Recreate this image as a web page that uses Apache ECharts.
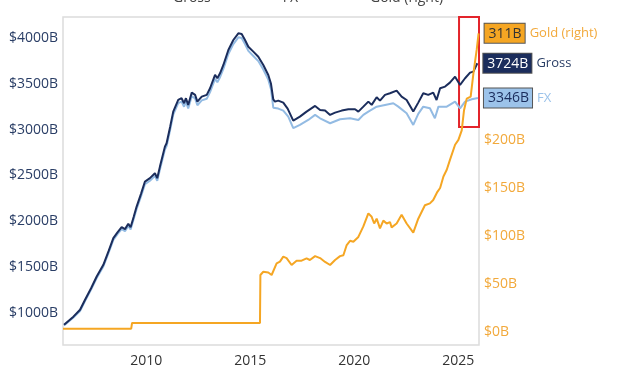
<!DOCTYPE html>
<html>
<head>
<meta charset="utf-8">
<script src="https://cdn.jsdelivr.net/npm/echarts@6/dist/echarts.min.js"></script>
<style>html,body{margin:0;padding:0;background:#fff}#c{width:624px;height:375px}</style>
</head>
<body>
<div id="c"></div>
<script>
const grossDates = [2006.05,2006.5,2006.82,2007.06,2007.35,2007.62,2007.94,2008.2,2008.42,2008.62,2008.82,2008.98,2009.14,2009.25,2009.4,2009.54,2009.75,2009.94,2010.18,2010.42,2010.53,2010.66,2010.9,2010.98,2011.15,2011.3,2011.54,2011.7,2011.82,2011.91,2012.02,2012.19,2012.35,2012.46,2012.67,2012.91,2013.07,2013.31,2013.42,2013.55,2013.71,2013.95,2014.19,2014.43,2014.59,2014.75,2014.91,2015.15,2015.39,2015.63,2015.87,2016.0,2016.11,2016.19,2016.35,2016.59,2016.65,2016.8,2017.07,2017.39,2017.71,2018.12,2018.36,2018.6,2018.84,2019.08,2019.4,2019.72,2020.04,2020.2,2020.44,2020.68,2020.84,2021.08,2021.24,2021.48,2021.72,2022.04,2022.28,2022.52,2022.84,2023.08,2023.32,2023.56,2023.8,2023.96,2024.13,2024.37,2024.6,2024.85,2025.09,2025.33,2025.57,2025.73,2025.92];
const gross = [872,960,1035,1144,1270,1398,1526,1680,1817,1880,1936,1915,1973,1936,2050,2161,2300,2434,2471,2525,2471,2597,2815,2852,3030,3197,3324,3343,3288,3343,3270,3404,3379,3306,3360,3379,3452,3597,3561,3615,3706,3869,3978,4051,4044,3978,3905,3851,3796,3706,3597,3500,3330,3306,3317,3295,3290,3230,3099,3142,3197,3259,3215,3208,3161,3186,3208,3223,3223,3197,3251,3306,3270,3353,3317,3379,3397,3426,3360,3324,3197,3295,3397,3379,3404,3324,3452,3470,3513,3578,3488,3561,3622,3633,3724];
const fxDates = [2006.05,2006.5,2006.82,2007.06,2007.35,2007.62,2007.94,2008.2,2008.42,2008.62,2008.82,2008.98,2009.14,2009.25,2009.4,2009.54,2009.75,2009.94,2010.18,2010.42,2010.53,2010.66,2010.9,2010.98,2011.15,2011.3,2011.54,2011.7,2011.82,2011.91,2012.02,2012.19,2012.35,2012.46,2012.67,2012.91,2013.07,2013.31,2013.42,2013.55,2013.71,2013.95,2014.19,2014.43,2014.59,2014.75,2014.91,2015.15,2015.39,2015.63,2015.87,2016.0,2016.11,2016.35,2016.59,2016.83,2017.07,2017.39,2017.79,2018.12,2018.36,2018.84,2019.32,2019.8,2020.2,2020.44,2020.68,2021.08,2021.48,2021.88,2022.12,2022.52,2022.84,2023.08,2023.32,2023.64,2023.88,2024.05,2024.45,2024.85,2025.09,2025.33,2025.65,2025.95];
const fx = [865,950,1022,1130,1255,1382,1508,1660,1797,1860,1914,1892,1950,1912,2025,2135,2272,2405,2443,2496,2442,2566,2784,2820,2996,3163,3290,3306,3250,3305,3232,3366,3340,3266,3320,3338,3410,3554,3518,3572,3662,3825,3934,4007,4000,3933,3860,3804,3748,3657,3546,3440,3240,3230,3208,3142,3016,3052,3106,3161,3124,3070,3114,3124,3106,3161,3197,3251,3270,3288,3251,3179,3052,3172,3251,3233,3124,3251,3251,3306,3233,3306,3332,3346];
const goldDates = [2006.0,2009.28,2009.32,2015.47,2015.49,2015.63,2015.87,2016.03,2016.27,2016.43,2016.59,2016.75,2016.99,2017.23,2017.47,2017.71,2017.87,2018.12,2018.36,2018.6,2018.84,2019.08,2019.32,2019.48,2019.64,2019.8,2019.96,2020.2,2020.44,2020.68,2020.84,2020.96,2021.08,2021.24,2021.4,2021.56,2021.72,2021.8,2022.04,2022.28,2022.52,2022.84,2023.08,2023.24,2023.4,2023.64,2023.8,2024.0,2024.13,2024.29,2024.45,2024.6,2024.85,2025.01,2025.17,2025.28,2025.41,2025.6,2025.73,2025.89,2025.98];
const gold = [3.5,3.5,9.5,9.5,59.4,62.8,62,59.4,71.5,73.3,78.5,77,69.8,74.3,74.3,76.7,75,79,77,73,69.8,75,79,80,90.6,95,94,99,110,123.6,120,113,118,108,116,113,114.5,109,113,122,113,103.5,118,125,132,134,137.5,146,150,162,169,179,195,200,210,231,243,245,269,294,311];
const xTicks = [2010,2015,2020,2025];
const leftTicks = [1000,1500,2000,2500,3000,3500,4000];
const rightTicks = [0,50,100,150,200];
const seriesNames = ['Gross','FX','Gold (right)'];
const highlightBox = [[2025.04, 3030],[2026.1, 4255]];

const pairs = (xs, ys) => xs.map((x, i) => [x, ys[i]]);
const C_GROSS = '#1b2d5c', C_FX = '#93bbe3', C_GOLD = '#f5a623';
const FONT = '"Open Sans", "Noto Sans", sans-serif';

function endLab(boxStyle, nameColor) {
  return {
    show: true, distance: 6,
    formatter: p => '{box|' + Math.round(p.value[1]) + 'B}{nm|' + p.seriesName + '}',
    rich: {
      box: Object.assign({fontFamily: FONT, fontSize: 14, padding: [3, 3, 2, 4], borderWidth: 1, borderColor: '#555'}, boxStyle),
      nm: {fontFamily: FONT, fontSize: 13, color: nameColor, padding: [0, 0, 0, 5]}
    }
  };
}

const chart = echarts.init(document.getElementById('c'), null, {renderer: 'canvas'});
chart.setOption({
  animation: false,
  backgroundColor: '#fff',
  textStyle: {fontFamily: FONT},
  legend: {
    top: -14, left: 136, itemGap: 40, itemWidth: 26, itemHeight: 3,
    textStyle: {fontFamily: FONT, fontSize: 14, color: '#444'},
    data: seriesNames
  },
  grid: {left: 63, right: 145, top: 17, bottom: 30, show: true, borderColor: '#dcdcdc', borderWidth: 1.5, containLabel: false},
  xAxis: {
    type: 'value', min: 2006, max: 2026,
    axisLine: {show: false}, axisTick: {show: false}, splitLine: {show: false},
    axisLabel: {customValues: xTicks, formatter: v => String(v), color: '#333', fontSize: 14, margin: 9, fontFamily: FONT}
  },
  yAxis: [{
    type: 'value', min: 651, max: 4229, position: 'left',
    axisLine: {show: false}, axisTick: {show: false}, splitLine: {show: false},
    axisLabel: {customValues: leftTicks, formatter: v => '$' + v + 'B', color: '#2a3e66', fontSize: 14, margin: 5, fontFamily: FONT}
  }, {
    type: 'value', min: -13.5, max: 328, position: 'right',
    axisLine: {show: false}, axisTick: {show: false}, splitLine: {show: false},
    axisLabel: {customValues: rightTicks, formatter: v => '$' + v + 'B', color: '#f2a93b', fontSize: 14, margin: 5, fontFamily: FONT}
  }],
  series: [{
    name: seriesNames[1], type: 'line', yAxisIndex: 0, data: pairs(fxDates, fx),
    symbol: 'none', lineStyle: {color: C_FX, width: 2}, itemStyle: {color: C_FX},
    endLabel: endLab({backgroundColor: '#9cc3ea', color: '#1b2d5c'}, '#9cc3ea')
  }, {
    name: seriesNames[0], type: 'line', yAxisIndex: 0, data: pairs(grossDates, gross), clip: false,
    symbol: 'none', lineStyle: {color: C_GROSS, width: 2}, itemStyle: {color: C_GROSS},
    endLabel: endLab({backgroundColor: '#1b2d5c', color: '#fff'}, '#2a3e66'),
    markArea: {
      silent: true,
      itemStyle: {color: 'rgba(0,0,0,0)', borderColor: '#e3242b', borderWidth: 2},
      data: [[{coord: highlightBox[0]}, {coord: highlightBox[1]}]]
    }
  }, {
    name: seriesNames[2], type: 'line', yAxisIndex: 1, data: pairs(goldDates, gold),
    symbol: 'none', lineStyle: {color: C_GOLD, width: 2}, itemStyle: {color: C_GOLD},
    endLabel: endLab({backgroundColor: '#f5a623', color: '#333'}, '#f2a93b')
  }]
});
</script>
</body>
</html>
